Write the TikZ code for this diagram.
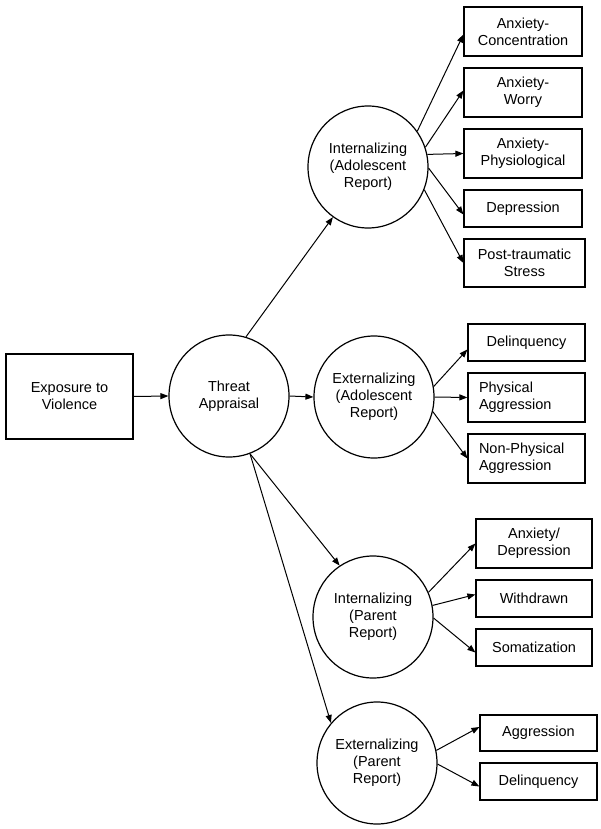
\documentclass[tikz,border=0pt]{standalone}
\usepackage{fontspec}
\setmainfont{Liberation Sans}
\usetikzlibrary{arrows.meta,shapes.geometric}
\begin{document}
\begin{tikzpicture}[x=1pt,y=-1pt,
  every node/.style={font=\fontsize{14.5}{17}\selectfont, align=center},
  bx/.style={draw, line width=1.2pt, inner sep=0pt, minimum width=118pt},
  bxl/.style={bx, align=left, text width=95pt, inner xsep=11pt},
  lat/.style={draw, ellipse, line width=1.2pt, inner sep=0pt, minimum width=120pt, minimum height=122pt},
  arr/.style={line width=1pt, -{Triangle[length=8pt,width=6pt]}}]
\useasboundingbox (0,0) rectangle (600,829);
% latent nodes
\node[lat] (threat) at (229,396) {Threat\\Appraisal};
\node[lat] (intA) at (368,167) {Internalizing\\(Adolescent\\Report)};
\node[lat] (extA) at (374,397) {Externalizing\\(Adolescent\\Report)};
\node[lat] (intP) at (373,617) {Internalizing\\(Parent\\Report)};
\node[lat] (extP) at (377,763) {Externalizing\\(Parent\\Report)};
% boxes
\node[bx, minimum width=127pt, minimum height=85pt] (exp) at (69.5,396.5) {Exposure to\\Violence};
\node[bx, minimum height=49pt] (b1) at (523,31.5) {Anxiety-\\Concentration};
\node[bx, minimum height=49pt] (b2) at (523,92.5) {Anxiety-\\Worry};
\node[bx, minimum height=49pt] (b3) at (523,153.5) {Anxiety-\\Physiological};
\node[bx, minimum height=37pt] (b4) at (523,208.5) {Depression};
\node[bx, minimum width=121pt, minimum height=48pt] (b5) at (524.5,263) {Post-traumatic\\Stress};
\node[bx, minimum width=117pt, minimum height=37pt] (b6) at (526.5,342.5) {Delinquency};
\node[bxl, minimum width=117pt, minimum height=49pt] (b7) at (526.5,397.5) {Physical\\Aggression};
\node[bxl, minimum width=117pt, minimum height=49pt] (b8) at (526.5,458.5) {Non-Physical\\Aggression};
\node[bx, minimum width=116pt, minimum height=49pt] (b9) at (534,543.5) {Anxiety/\\Depression};
\node[bx, minimum width=116pt, minimum height=37pt] (b10) at (534,598.5) {Withdrawn};
\node[bx, minimum width=116pt, minimum height=37pt] (b11) at (534,647.5) {Somatization};
\node[bx, minimum width=117pt, minimum height=36pt] (b12) at (538.5,733) {Aggression};
\node[bx, minimum width=117pt, minimum height=37pt] (b13) at (538.5,781.5) {Delinquency};
% connectors
\draw[arr] (exp.east) -- (threat.west);
\draw[arr] (threat.74) -- (intA.235);
\draw[arr] (threat.east) -- (extA.west);
\draw[arr] (threat.-70) -- (intP.123);
\draw[arr] (threat.-70) -- (extP.139);
\draw[arr] (intA.36) -- ([yshift=-3pt]b1.west);
\draw[arr] (intA.19) -- ([yshift=2pt]b2.west);
\draw[arr] (intA.12) -- (b3.west);
\draw[arr] (intA.-1) -- ([yshift=-6pt]b4.west);
\draw[arr] (intA.-22) -- (b5.west);
\draw[arr] (extA.10) -- ([yshift=-7pt]b6.west);
\draw[arr] (extA.east) -- (b7.west);
\draw[arr] (extA.-14) -- (b8.west);
\draw[arr] (intP.24) -- (b9.west);
\draw[arr] (intP.11) -- ([yshift=4pt]b10.west);
\draw[arr] (intP.-1) -- ([yshift=-5pt]b11.west);
\draw[arr] (extP.12) -- ([yshift=6pt]b12.west);
\draw[arr] (extP.-1) -- ([yshift=-5pt]b13.west);
\end{tikzpicture}
\end{document}
